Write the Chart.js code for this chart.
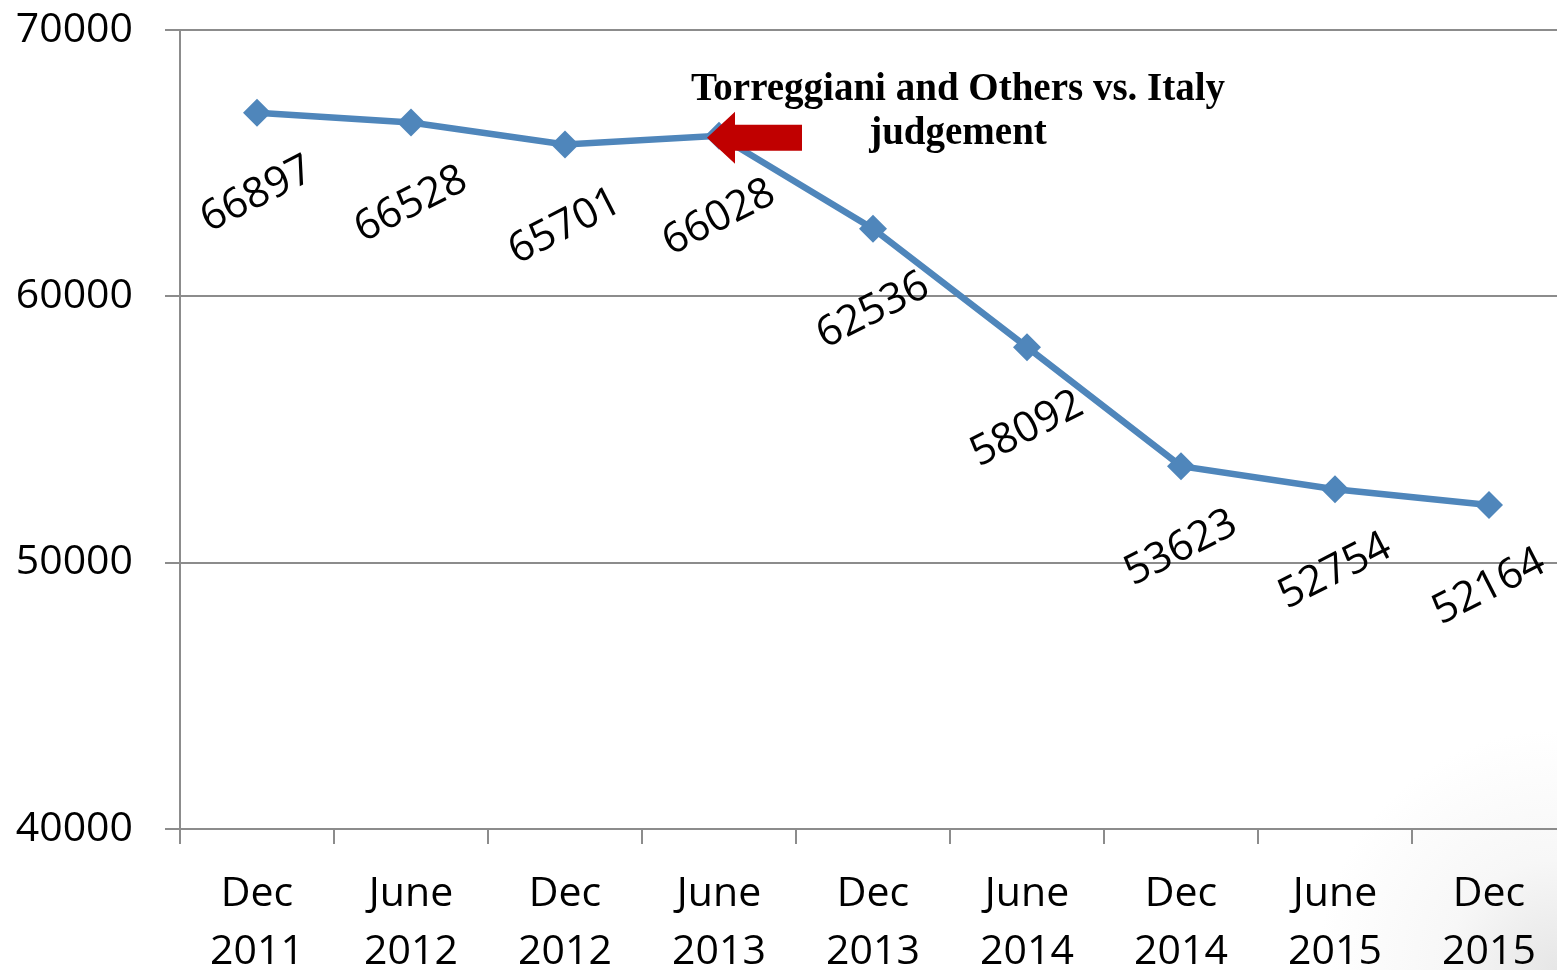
<!DOCTYPE html>
<html>
<head>
<meta charset="utf-8">
<script src="https://cdn.jsdelivr.net/npm/chart.js@4.4.1/dist/chart.umd.min.js"></script>
<style>
  html, body { margin: 0; padding: 0; overflow: hidden; width: 1557px; height: 970px; }
  body { background: radial-gradient(circle at 100% 100%, #e6e6e6 0, #f7f7f7 110px, #ffffff 240px); }
  #wrap { position: relative; width: 1600px; height: 970px; }
</style>
</head>
<body>
<div id="wrap"><canvas id="prisonChart"></canvas></div>
<script>
const periods = [
    ['Dec', '2011'], ['June', '2012'], ['Dec', '2012'], ['June', '2013'], ['Dec', '2013'],
    ['June', '2014'], ['Dec', '2014'], ['June', '2015'], ['Dec', '2015']
];
const prisoners = [66897, 66528, 65701, 66028, 62536, 58092, 53623, 52754, 52164];
const yTicks = [40000, 50000, 60000, 70000];
const judgementIndex = 3;
const judgementText = ['Torreggiani and Others vs. Italy', 'judgement'];

const sansFont = '"Open Sans", "Noto Sans", sans-serif';

// rotated value labels under each point
const valueLabels = {
    id: 'valueLabels',
    afterDatasetsDraw(chart) {
        const ctx = chart.ctx;
        const meta = chart.getDatasetMeta(0);
        ctx.save();
        ctx.fillStyle = '#000';
        ctx.font = '42px ' + sansFont;
        ctx.textAlign = 'center';
        ctx.textBaseline = 'middle';
        meta.data.forEach((pt, i) => {
            ctx.save();
            ctx.translate(pt.x, pt.y + 82);
            ctx.rotate(-27 * Math.PI / 180);
            ctx.fillText(String(prisoners[i]), 0, 0);
            ctx.restore();
        });
        ctx.restore();
    }
};

// red arrow + note pointing at the judgement date
const judgementNote = {
    id: 'judgementNote',
    afterDatasetsDraw(chart) {
        const ctx = chart.ctx;
        const pt = chart.getDatasetMeta(0).data[judgementIndex];
        const tipX = pt.x - 12, cy = pt.y + 2;
        ctx.save();
        ctx.fillStyle = '#c00000';
        ctx.beginPath();
        ctx.moveTo(tipX, cy);
        ctx.lineTo(tipX + 28, cy - 26);
        ctx.lineTo(tipX + 28, cy - 13);
        ctx.lineTo(tipX + 95, cy - 13);
        ctx.lineTo(tipX + 95, cy + 13);
        ctx.lineTo(tipX + 28, cy + 13);
        ctx.lineTo(tipX + 28, cy + 26);
        ctx.closePath();
        ctx.fill();

        ctx.fillStyle = '#000';
        ctx.font = 'bold 39px "Liberation Serif", "DejaVu Serif", serif';
        ctx.textAlign = 'center';
        ctx.textBaseline = 'middle';
        ctx.fillText(judgementText[0], pt.x + 239, pt.y - 46);
        ctx.fillText(judgementText[1], pt.x + 239, pt.y - 2);
        ctx.restore();
    }
};

const ctx = document.getElementById('prisonChart').getContext('2d');
new Chart(ctx, {
    type: 'line',
    data: {
        labels: periods,
        datasets: [{
            data: prisoners,
            borderColor: '#4f86bb',
            backgroundColor: '#4f86bb',
            borderWidth: 6.5,
            pointStyle: 'rectRot',
            pointRadius: 14,
            pointHoverRadius: 14,
            pointBorderWidth: 0,
            tension: 0
        }]
    },
    options: {
        responsive: true,
        maintainAspectRatio: false,
        animation: false,
        layout: { padding: { left: 0, right: 34, top: 30, bottom: 0 } },
        plugins: {
            legend: { display: false },
            tooltip: { enabled: false }
        },
        scales: {
            x: {
                offset: true,
                grid: {
                    offset: true,
                    drawOnChartArea: false,
                    color: '#8c8c8c',
                    lineWidth: 2,
                    tickLength: 15
                },
                border: { color: '#8c8c8c', width: 2 },
                ticks: {
                    color: '#000',
                    font: { family: sansFont, size: 41, lineHeight: 1.4 },
                    padding: 22,
                    maxRotation: 0,
                    autoSkip: false
                },
                afterFit(scale) { scale.height = 141; }
            },
            y: {
                min: 40000,
                max: 70000,
                afterBuildTicks(scale) { scale.ticks = yTicks.map(v => ({ value: v })); },
                grid: {
                    color: '#8c8c8c',
                    lineWidth: 2,
                    tickLength: 15
                },
                border: { color: '#8c8c8c', width: 2 },
                ticks: {
                    color: '#000',
                    font: { family: sansFont, size: 41 },
                    padding: 32,
                    callback: v => String(v)
                },
                afterFit(scale) {
                    scale.width = 180;
                    scale.paddingTop = 0;
                    scale.paddingBottom = 0;
                }
            }
        }
    },
    plugins: [valueLabels, judgementNote]
});
</script>
</body>
</html>
